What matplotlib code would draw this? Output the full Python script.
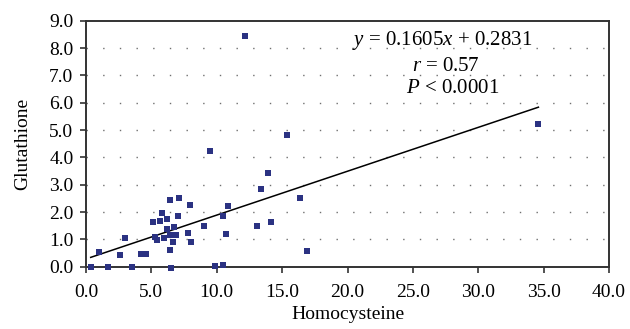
import numpy as np
import matplotlib.pyplot as plt

# homocysteine vs glutathione
homocysteine = [12.14, 9.46, 13.90, 13.37, 14.13, 13.06, 10.84, 10.46, 10.69, 9.85,
                10.46, 9.01, 7.93, 8.01, 7.78, 7.10, 6.40, 7.02, 5.79, 6.17,
                5.64, 5.10, 6.71, 6.17, 6.87, 6.40, 5.95, 5.26, 5.41, 6.63,
                6.40, 2.96, 0.97, 2.58, 4.18, 4.57, 0.36, 1.66, 3.50, 6.48,
                15.36, 16.35, 16.89, 34.60]
glutathione = [8.44, 4.22, 3.42, 2.84, 1.64, 1.49, 2.21, 1.84, 1.18, 0.02,
               0.06, 1.48, 2.26, 0.89, 1.23, 2.50, 2.43, 1.84, 1.96, 1.74,
               1.66, 1.62, 1.45, 1.39, 1.15, 1.15, 1.05, 1.08, 0.97, 0.90,
               0.61, 1.04, 0.53, 0.42, 0.45, 0.45, 0.00, 0.00, 0.00, -0.03,
               4.81, 2.50, 0.56, 5.21]
slope, intercept = 0.1605, 0.2831
x_ticks = [0, 5, 10, 15, 20, 25, 30, 35, 40]
y_ticks = [0, 1, 2, 3, 4, 5, 6, 7, 8, 9]

plt.rcParams['font.family'] = 'Liberation Serif'
plt.rcParams['mathtext.fontset'] = 'custom'
plt.rcParams['mathtext.rm'] = 'Liberation Serif'
plt.rcParams['mathtext.it'] = 'Liberation Serif:italic'

fig = plt.figure(figsize=(6.3, 3.29), dpi=100)
ax = fig.add_axes([0.1365, 0.1894, 0.8302, 0.7476])

for y in y_ticks[1:-1]:
    ax.axhline(y, color='#707070', lw=1.0, ls=(0, (1, 11)), zorder=1)

xs = np.array([min(homocysteine), max(homocysteine)])
ax.plot(xs, slope * xs + intercept, color='black', lw=1.1, zorder=2)

ax.scatter(homocysteine, glutathione, marker='s', s=19, color='#2b3282',
           linewidths=0, zorder=3, clip_on=False)

ax.set_xlim(0, 40)
ax.set_ylim(0, 9)
ax.set_xticks(x_ticks)
ax.set_xticklabels(['%.1f' % v for v in x_ticks])
ax.set_yticks(y_ticks)
ax.set_yticklabels(['%.1f' % v for v in y_ticks])
ax.tick_params(direction='out', length=4.5, width=1.2, color='#333333',
               labelsize=14)
ax.tick_params(axis='x', pad=8)
ax.tick_params(axis='y', pad=4.5)
for s in ax.spines.values():
    s.set_linewidth(1.4)
    s.set_color('#333333')

ax.set_xlabel('Homocysteine', fontsize=14, labelpad=3.5)
ax.set_ylabel('Glutathione', fontsize=14, labelpad=13)

ax.text(27.2, 8.29, r'$y$ = 0.1605$x$ + 0.2831', fontsize=15, ha='center', va='center')
ax.text(27.5, 7.32, r'$r$ = 0.57', fontsize=15, ha='center', va='center')
ax.text(28.0, 6.52, r'$P$ < 0.0001', fontsize=15, ha='center', va='center')

fig.savefig('out.png', dpi=100)
